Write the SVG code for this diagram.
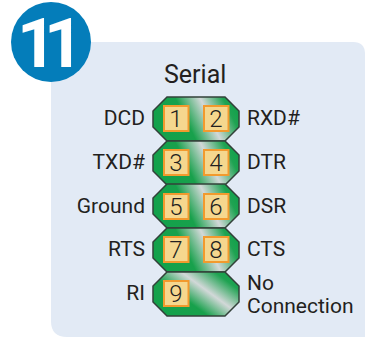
<svg xmlns="http://www.w3.org/2000/svg" width="365" height="337" viewBox="0 0 365 337">
<style>
text{font-family:Roboto,"Noto Sans",sans-serif;fill:#231f20}
.l{font-size:21px;text-anchor:end}
.r{font-size:21px}
.n{font-size:24px;text-anchor:middle;font-weight:300}
.o{stroke:#33413a;stroke-width:1.5}
.p{fill:#f5d78e;stroke:#f29a2e;stroke-width:2}
</style>
<defs>
<linearGradient id="g" x1="0" y1="0.6" x2="1" y2="0.35">
<stop offset="0" stop-color="#12a14b"/><stop offset="0.38" stop-color="#18a14c"/><stop offset="0.65" stop-color="#d2d8d8"/><stop offset="0.9" stop-color="#1fa352"/><stop offset="1" stop-color="#12a14b"/>
</linearGradient>
<linearGradient id="g2" x1="0" y1="0.85" x2="1" y2="0.15">
<stop offset="0" stop-color="#12a14b"/><stop offset="0.36" stop-color="#18a14c"/><stop offset="0.62" stop-color="#d2d8d8"/><stop offset="0.88" stop-color="#1fa352"/><stop offset="1" stop-color="#12a14b"/>
</linearGradient>
<polygon id="oct" points="167,0 225,0 239,14 239,30 225,44 167,44 153,30 153,14" class="o"/>
</defs>
<path d="M51 42H353Q365 42 365 54V337H67Q51 337 51 321Z" fill="#e2eaf5"/>
<g id="badge"><circle cx="51" cy="42" r="40" fill="#047dba"/><text x="17 44" y="67" font-size="69" font-weight="700" style="fill:#fff">11</text></g>
<g id="title"><text x="164" y="83" font-size="25">Serial</text></g>
<g id="row1"><use href="#oct" y="97" fill="url(#g)"/><rect class="p" x="164" y="106" width="24.500" height="25"/><rect class="p" x="204" y="106" width="24.500" height="25"/><text class="n" x="176" y="127">1</text><text class="n" x="216" y="127">2</text><text class="l" x="145" y="125">DCD</text><text class="r" x="247" y="125">RXD#</text></g>
<g id="row2"><use href="#oct" y="141" fill="url(#g)"/><rect class="p" x="164" y="150" width="24.500" height="25"/><rect class="p" x="204" y="150" width="24.500" height="25"/><text class="n" x="176" y="171">3</text><text class="n" x="216" y="171">4</text><text class="l" x="145" y="169">TXD#</text><text class="r" x="247" y="169">DTR</text></g>
<g id="row3"><use href="#oct" y="184" fill="url(#g)"/><rect class="p" x="164" y="194" width="24.500" height="25"/><rect class="p" x="204" y="194" width="24.500" height="25"/><text class="n" x="176" y="215">5</text><text class="n" x="216" y="215">6</text><text class="l" x="145" y="213">Ground</text><text class="r" x="247" y="213">DSR</text></g>
<g id="row4"><use href="#oct" y="228" fill="url(#g)"/><rect class="p" x="164" y="237" width="24.500" height="25"/><rect class="p" x="204" y="237" width="24.500" height="25"/><text class="n" x="176" y="258">7</text><text class="n" x="216" y="258">8</text><text class="l" x="145" y="256">RTS</text><text class="r" x="247" y="256">CTS</text></g>
<g id="row5"><use href="#oct" y="272" fill="url(#g2)"/><rect class="p" x="164" y="281" width="24.500" height="25"/><text class="n" x="176" y="302">9</text><text class="l" x="145" y="300">RI</text><text class="r" x="247" y="290">No</text><text class="r" x="247" y="313">Connection</text></g>
</svg>
